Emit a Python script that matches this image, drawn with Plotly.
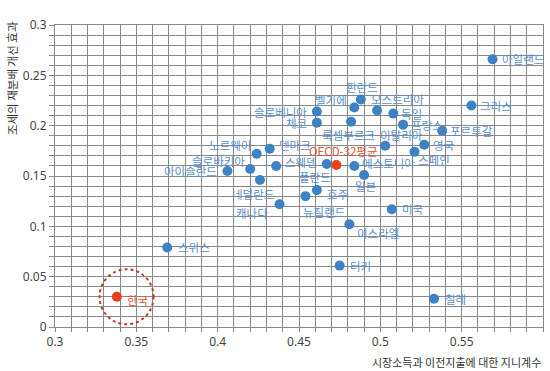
import plotly.graph_objects as go

# ---- data ----
countries = ["아일랜드", "그리스", "포르투갈", "영국", "스페인", "프랑스", "독일", "오스트리아",
             "이탈리아", "핀란드", "벨기에", "슬로베니아", "체코", "룩셈부르크", "덴마크", "노르웨이",
             "슬로바키아", "아이슬란드", "스웨덴", "네덜란드", "캐나다", "폴란드", "에스토니아", "일본",
             "호주", "뉴질랜드", "미국", "이스라엘", "터키", "칠레", "스위스"]
gini = [0.569, 0.556, 0.538, 0.527, 0.521, 0.514, 0.508, 0.498,
        0.503, 0.488, 0.484, 0.461, 0.461, 0.482, 0.432, 0.424,
        0.420, 0.406, 0.436, 0.426, 0.438, 0.467, 0.484, 0.490,
        0.461, 0.454, 0.507, 0.481, 0.475, 0.533, 0.369]
effect = [0.266, 0.220, 0.195, 0.181, 0.174, 0.201, 0.212, 0.215,
          0.180, 0.226, 0.218, 0.214, 0.203, 0.204, 0.177, 0.172,
          0.157, 0.155, 0.160, 0.146, 0.122, 0.162, 0.160, 0.151,
          0.136, 0.130, 0.117, 0.102, 0.061, 0.028, 0.079]

hl_names = ["OECD-32평균", "한국"]
hl_gini = [0.473, 0.338]
hl_effect = [0.161, 0.030]

y_ticks = [0, 0.05, 0.1, 0.15, 0.2, 0.25, 0.3]
y_ticklabels = ["0", "0.05", "0.1", "0.15", "0.2", "0.25", "0.3"]
x_ticks = [0.3, 0.35, 0.4, 0.45, 0.5, 0.55, 0.6]
x_ticklabels = ["0.3", "0.35", "0.4", "0.45", "0.5", "0.55", "0.6"]

# ---- label placement (style only) ----
R, L, C = "right", "left", "center"
label_pos = {
    "아일랜드": (L, 7, 0), "그리스": (L, 7, 0), "포르투갈": (L, 6, 0), "영국": (L, 7, 0),
    "스페인": (C, 20, -8), "프랑스": (L, 6, 0), "독일": (L, 6, 0), "오스트리아": (C, 20, 12),
    "이탈리아": (C, 16, 11), "핀란드": (C, 1, 12), "벨기에": (R, -5, 8), "슬로베니아": (R, -8, 0),
    "체코": (R, -8, 0), "룩셈부르크": (C, -3, -13), "덴마크": (L, 7, 4), "노르웨이": (R, -4, 9),
    "슬로바키아": (R, -3, 8), "아이슬란드": (R, -8, 0), "스웨덴": (L, 7, 4), "네덜란드": (C, -7, -14),
    "캐나다": (R, -9, -9), "폴란드": (C, -12, -13), "에스토니아": (L, 6, 3), "일본": (C, 1, -11),
    "호주": (L, 8, -4), "뉴질랜드": (C, 18, -16), "미국": (L, 8, 0), "이스라엘": (L, 6, -9),
    "터키": (L, 8, 0), "칠레": (L, 9, 0), "스위스": (L, 9, 0),
    "OECD-32평균": (C, 7, 14), "한국": (L, 8, -3),
}

BLUE_DOT = "#3d82c4"
BLUE_TXT = "#5a8fca"
RED_DOT = "#e8401c"
RED_TXT = "#e0513c"
GRID = "#888888"
FONT = "Noto Sans CJK KR"

fig = go.Figure()
fig.add_trace(go.Scatter(x=gini, y=effect, mode="markers",
                         marker=dict(size=10, color=BLUE_DOT), hoverinfo="text", text=countries))
fig.add_trace(go.Scatter(x=hl_gini, y=hl_effect, mode="markers",
                         marker=dict(size=10, color=RED_DOT), hoverinfo="text", text=hl_names))

annotations = []
for names, xs, ys, col in [(countries, gini, effect, BLUE_TXT), (hl_names, hl_gini, hl_effect, RED_TXT)]:
    for n, xv, yv in zip(names, xs, ys):
        anc, dx, dy = label_pos[n]
        annotations.append(dict(x=xv, y=yv, xref="x", yref="y", text=n, showarrow=False,
                                xanchor=anc, yanchor="middle", xshift=dx, yshift=dy,
                                font=dict(family=FONT, size=11.5, color=col)))

annotations.append(dict(x=-0.088, y=0.8245, xref="paper", yref="paper", text="조세의 재분배 개선 효과",
                        textangle=-90, showarrow=False, xanchor="center", yanchor="middle",
                        font=dict(family=FONT, size=11.5, color="#333333")))
annotations.append(dict(x=1.0, y=-0.116, xref="paper", yref="paper", text="시장소득과 이전지출에 대한 지니계수",
                        showarrow=False, xanchor="right", yanchor="middle",
                        font=dict(family=FONT, size=11, color="#333333")))

# dashed circle around Korea
shapes = [dict(type="circle", xref="x", yref="y",
               x0=hl_gini[1] - 0.0106, x1=hl_gini[1] + 0.0226,
               y0=hl_effect[1] - 0.0273, y1=hl_effect[1] + 0.0273,
               line=dict(color="#c0392b", width=2, dash="dot"))]

fig.update_layout(
    width=550, height=371,
    margin=dict(l=55, r=7, t=25, b=44),
    paper_bgcolor="white", plot_bgcolor="white",
    showlegend=False,
    annotations=annotations, shapes=shapes,
    font=dict(family="Noto Sans", size=12, color="#444444"),
)
fig.update_xaxes(range=[0.3, 0.6], tickvals=x_ticks, ticktext=x_ticklabels,
                 showgrid=True, gridcolor=GRID, gridwidth=1, zeroline=False,
                 showline=True, linecolor=GRID, mirror=True,
                 ticks="outside", ticklen=4, tickcolor=GRID,
                 minor=dict(dtick=0.01, showgrid=True, gridcolor=GRID, gridwidth=1,
                            ticks="outside", ticklen=4, tickcolor=GRID),
                 tickfont=dict(family="Noto Sans", size=12, color="#444444"))
fig.update_yaxes(range=[0, 0.3], tickvals=y_ticks, ticktext=y_ticklabels,
                 showgrid=True, gridcolor=GRID, gridwidth=1, zeroline=False,
                 showline=True, linecolor=GRID, mirror=True,
                 ticks="outside", ticklen=5, tickcolor=GRID,
                 minor=dict(dtick=0.01, showgrid=True, gridcolor=GRID, gridwidth=1,
                            ticks="outside", ticklen=5, tickcolor=GRID),
                 tickfont=dict(family="Noto Sans", size=12, color="#444444"))

fig.write_html("out.html", config={"displayModeBar": False},
               post_script="document.body.style.margin='0';document.body.style.overflow='hidden';")
